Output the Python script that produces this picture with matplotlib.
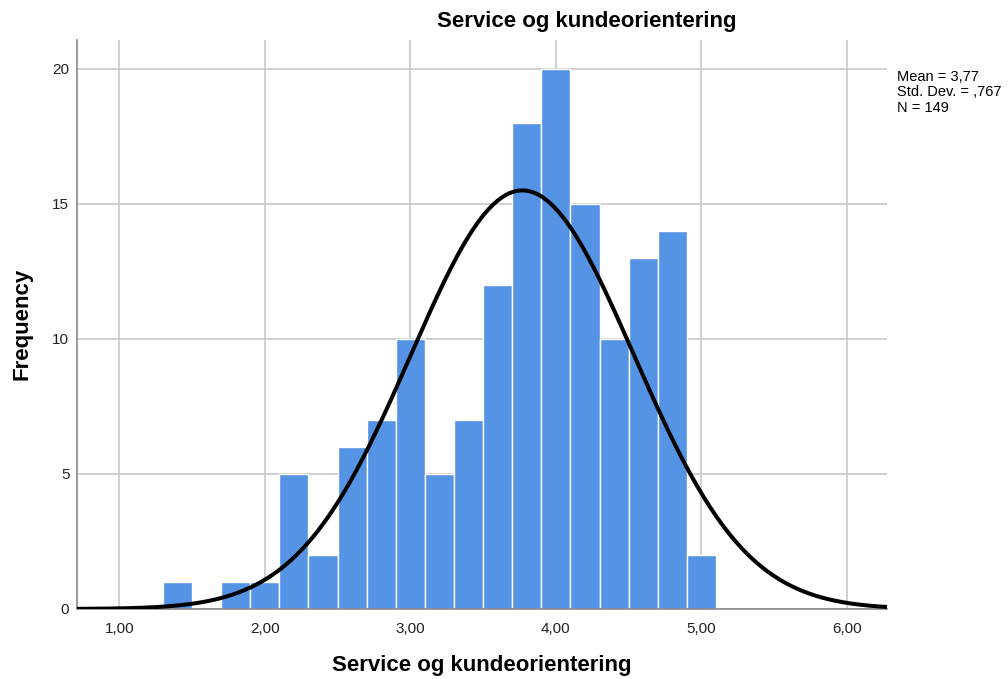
import numpy as np
import matplotlib
matplotlib.use("Agg")
import matplotlib.pyplot as plt

plt.rcParams['font.family'] = ['Liberation Sans', 'DejaVu Sans']

# Histogram data: left bin edges (width 0.2) and frequencies
bin_left = [1.3, 1.5, 1.7, 1.9, 2.1, 2.3, 2.5, 2.7, 2.9, 3.1, 3.3, 3.5,
            3.7, 3.9, 4.1, 4.3, 4.5, 4.7, 4.9]
counts = [1, 0, 1, 1, 5, 2, 6, 7, 10, 5, 7, 12, 18, 20, 15, 10, 13, 14, 2]
bin_width = 0.2

mean_val = 3.77
std_val = 0.767
n_obs = 149

x_ticks = [1, 2, 3, 4, 5, 6]
x_tick_labels = ["1,00", "2,00", "3,00", "4,00", "5,00", "6,00"]
y_ticks = [0, 5, 10, 15, 20]

W, H = 1008, 679
fig = plt.figure(figsize=(W / 100, H / 100), dpi=100)
ax = fig.add_axes([77 / W, 70 / H, 810 / W, 569 / H])

ax.bar(bin_left, counts, width=bin_width, align='edge', color='#5594E4',
       edgecolor='white', linewidth=1.0, zorder=2)

# Normal curve scaled to the histogram
xs = np.linspace(0.71, 6.275, 400)
pdf = np.exp(-0.5 * ((xs - mean_val) / std_val) ** 2) / (std_val * np.sqrt(2 * np.pi))
ax.plot(xs, pdf * n_obs * bin_width, color='black', linewidth=2.9, zorder=3,
        solid_capstyle='butt')

ax.set_xlim(0.71, 6.275)
ax.set_ylim(0, 21.07)
ax.set_xticks(x_ticks)
ax.set_xticklabels(x_tick_labels)
ax.set_yticks(y_ticks)

ax.grid(True, color='#C8C8C8', linewidth=1.2, zorder=0)
ax.set_axisbelow(True)
for side in ('top', 'right'):
    ax.spines[side].set_visible(False)
for side in ('left', 'bottom'):
    ax.spines[side].set_color('#888888')
    ax.spines[side].set_linewidth(1.2)
ax.tick_params(axis='x', length=0, labelsize=11, colors='#222222', pad=9.5)
ax.tick_params(axis='y', length=0, labelsize=11, colors='#222222', pad=5.5)

fig.text(482 / W, 1 - 666 / H, "Service og kundeorientering",
         ha='center', va='center', fontsize=16, fontweight='bold')
fig.text(22 / W, 1 - 324 / H, "Frequency", rotation=90,
         ha='center', va='center', fontsize=16, fontweight='bold')

fig.text(587 / W, 1 - 21 / H, "Service og kundeorientering",
         ha='center', va='center', fontsize=16, fontweight='bold')

fig.text(897 / W, 1 - 70 / H,
         "Mean = 3,77\nStd. Dev. = ,767\nN = 149",
         ha='left', va='top', fontsize=10.5, linespacing=1.12)

fig.savefig("out.png", dpi=100)
